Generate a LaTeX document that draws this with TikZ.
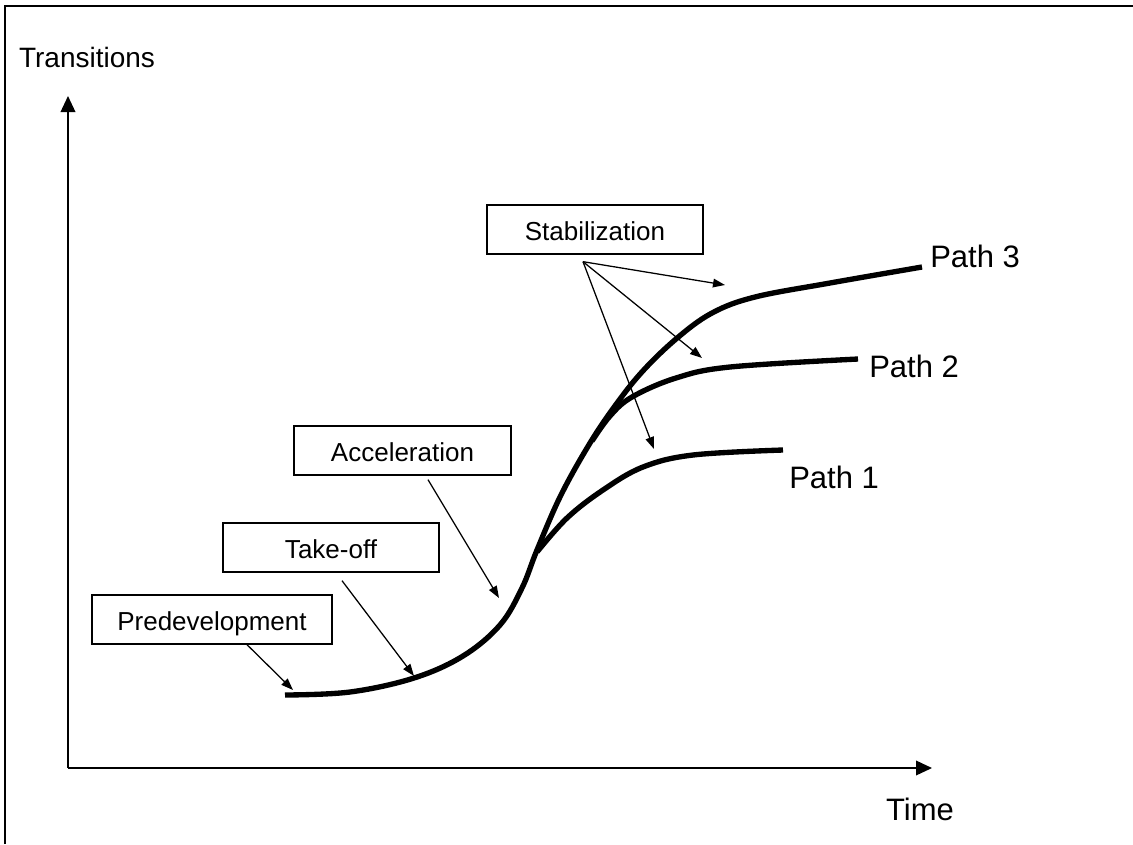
\documentclass[tikz,border=0pt]{standalone}
\usepackage{fontspec}
\setmainfont{Liberation Sans}
\usetikzlibrary{arrows.meta,calc}
\begin{document}
\begin{tikzpicture}[x=0.75pt,y=-0.75pt,
  frame/.style={line width=1.9pt},
  axis/.style={line width=1.1pt,-{Triangle[length=12pt,width=11pt]}},
  curve/.style={line width=4pt},
  labelbox/.style={draw,line width=1pt,inner sep=0pt,minimum height=36.75pt,
    text height=17.2pt,text depth=0pt,font=\fontsize{19.5}{22}\selectfont},
  pointer/.style={line width=0.95pt,-{Triangle[length=9pt,width=6.5pt]}},
  pathlabel/.style={anchor=west,inner sep=0pt,font=\fontsize{23.25}{26}\selectfont},
  axislabel/.style={inner sep=0pt}]
\useasboundingbox (0,0) rectangle (1133,844);
% frame
\draw[frame] (5,844) -- (5,6) -- (1133,6);
% axes
\coordinate (O) at (68,768);
\coordinate (ytip) at (68,96);
\coordinate (xtip) at (932,768);
\draw[axis] (O) -- (ytip);
\draw[axis] (O) -- (xtip);
\node[axislabel,font=\fontsize{21}{24}\selectfont] (ylab) at (87,57) {Transitions};
\node[axislabel,font=\fontsize{23.25}{26}\selectfont] (xlab) at (920,809) {Time};
% curves
\draw[curve] plot[smooth,tension=0.6] coordinates {(285,695) (350,692) (414,678) (463,656) (500,625) (522,588) (537,550) (560,497) (587,448) (612,410) (641,373) (676,339) (712,313) (755,297) (830,283) (922,267)};
\draw[curve] plot[smooth,tension=0.6] coordinates {(537,552) (567,518) (603,490) (643,467) (693,455) (783,450)};
\draw[curve] plot[smooth,tension=0.6] coordinates {(592,441) (610,416) (632,397) (676,378) (730,367) (858,359)};
\node[pathlabel] (p3) at (930,256) {Path 3};
\node[pathlabel] (p2) at (869,366) {Path 2};
\node[pathlabel] (p1) at (789,477) {Path 1};
% label boxes
\node[labelbox,minimum width=180pt] (pre) at (212,619.5) {Predevelopment};
\node[labelbox,minimum width=162pt] (take) at (331,547.5) {Take-off};
\node[labelbox,minimum width=162.75pt] (acc) at (402.5,450.5) {Acceleration};
\node[labelbox,minimum width=162pt] (stab) at (595,229.5) {Stabilization};
% pointer targets
\coordinate (preT) at (293,690);
\coordinate (takeT) at (414,676);
\coordinate (accT) at (499,598);
\coordinate (stabT3) at (725,285);
\coordinate (stabT2) at (702,358);
\coordinate (stabT1) at (654,449);
\draw[pointer] ($(pre.south)+(35,0)$) -- (preT);
\draw[pointer] ($(take.south)+(11,8)$) -- (takeT);
\draw[pointer] ($(acc.south)+(25.5,4)$) -- (accT);
\coordinate (stabS) at ($(stab.south)+(-12,7)$);
\draw[pointer] (stabS) -- (stabT3);
\draw[pointer] (stabS) -- (stabT2);
\draw[pointer] (stabS) -- (stabT1);
\end{tikzpicture}
\end{document}
